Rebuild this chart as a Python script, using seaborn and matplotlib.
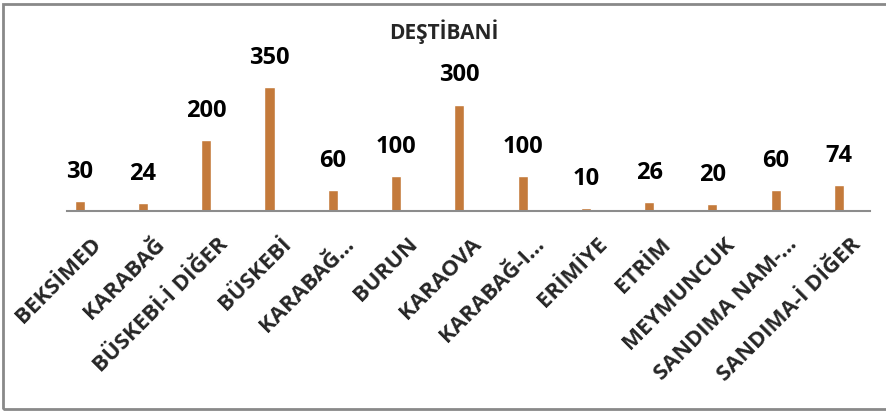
import pandas as pd
import seaborn as sns
import matplotlib.pyplot as plt
import matplotlib.transforms as mtransforms
from matplotlib.patches import Rectangle

categories = ["BEKSİMED", "KARABAĞ", "BÜSKEBİ-İ DİĞER", "BÜSKEBİ", "KARABAĞ…",
              "BURUN", "KARAOVA", "KARABAĞ-I…", "ERİMİYE", "ETRİM",
              "MEYMUNCUK", "SANDIMA NAM-…", "SANDIMA-İ DİĞER"]
values = [30, 24, 200, 350, 60, 100, 300, 100, 10, 26, 20, 60, 74]
title = "DEŞTİBANİ"

df = pd.DataFrame({"category": categories, "value": values})

sns.set_theme(style="white")
plt.rcParams['font.family'] = ['Open Sans', 'DejaVu Sans']

fig = plt.figure(figsize=(8.87, 4.11), dpi=100)
ax = fig.add_axes([67 / 887, (411 - 211.5) / 411, (870 - 67) / 887, (211.5 - 69) / 411])

sns.barplot(data=df, x="category", y="value", color="#C47A3B", width=0.16,
            saturation=1, ax=ax)

ax.set_xlim(-0.2, 12.49)
ax.set_ylim(0, 400)
ax.set_xlabel("")
ax.set_ylabel("")
ax.set_yticks([])
for s in ["top", "right", "left"]:
    ax.spines[s].set_visible(False)
ax.spines["bottom"].set_color("#8c8c8c")
ax.spines["bottom"].set_linewidth(1.5)

ax.tick_params(axis="x", length=0, pad=16)
ax.set_xticks(range(len(categories)))
ax.set_xticklabels(categories, rotation=45, ha="right", fontsize=16, fontweight="bold")
offset = mtransforms.ScaledTranslation(0.26, 0, fig.dpi_scale_trans)
for lab in ax.get_xticklabels():
    lab.set_transform(lab.get_transform() + offset)

for i, v in enumerate(values):
    ax.annotate(str(v), (i, v), xytext=(0, 21), textcoords="offset points",
                ha="center", va="center", fontsize=17, fontweight="bold", color="black")

fig.text(0.5, 1 - 32 / 411, title, ha="center", va="center", fontsize=15,
         fontweight="bold")

fig.patches.append(Rectangle((3 / 887, 2 / 411), 0.999, 1 - 4 / 411 - 2 / 411,
                             transform=fig.transFigure, fill=False,
                             edgecolor="#898989", linewidth=2))

fig.savefig("out.png", dpi=100)
